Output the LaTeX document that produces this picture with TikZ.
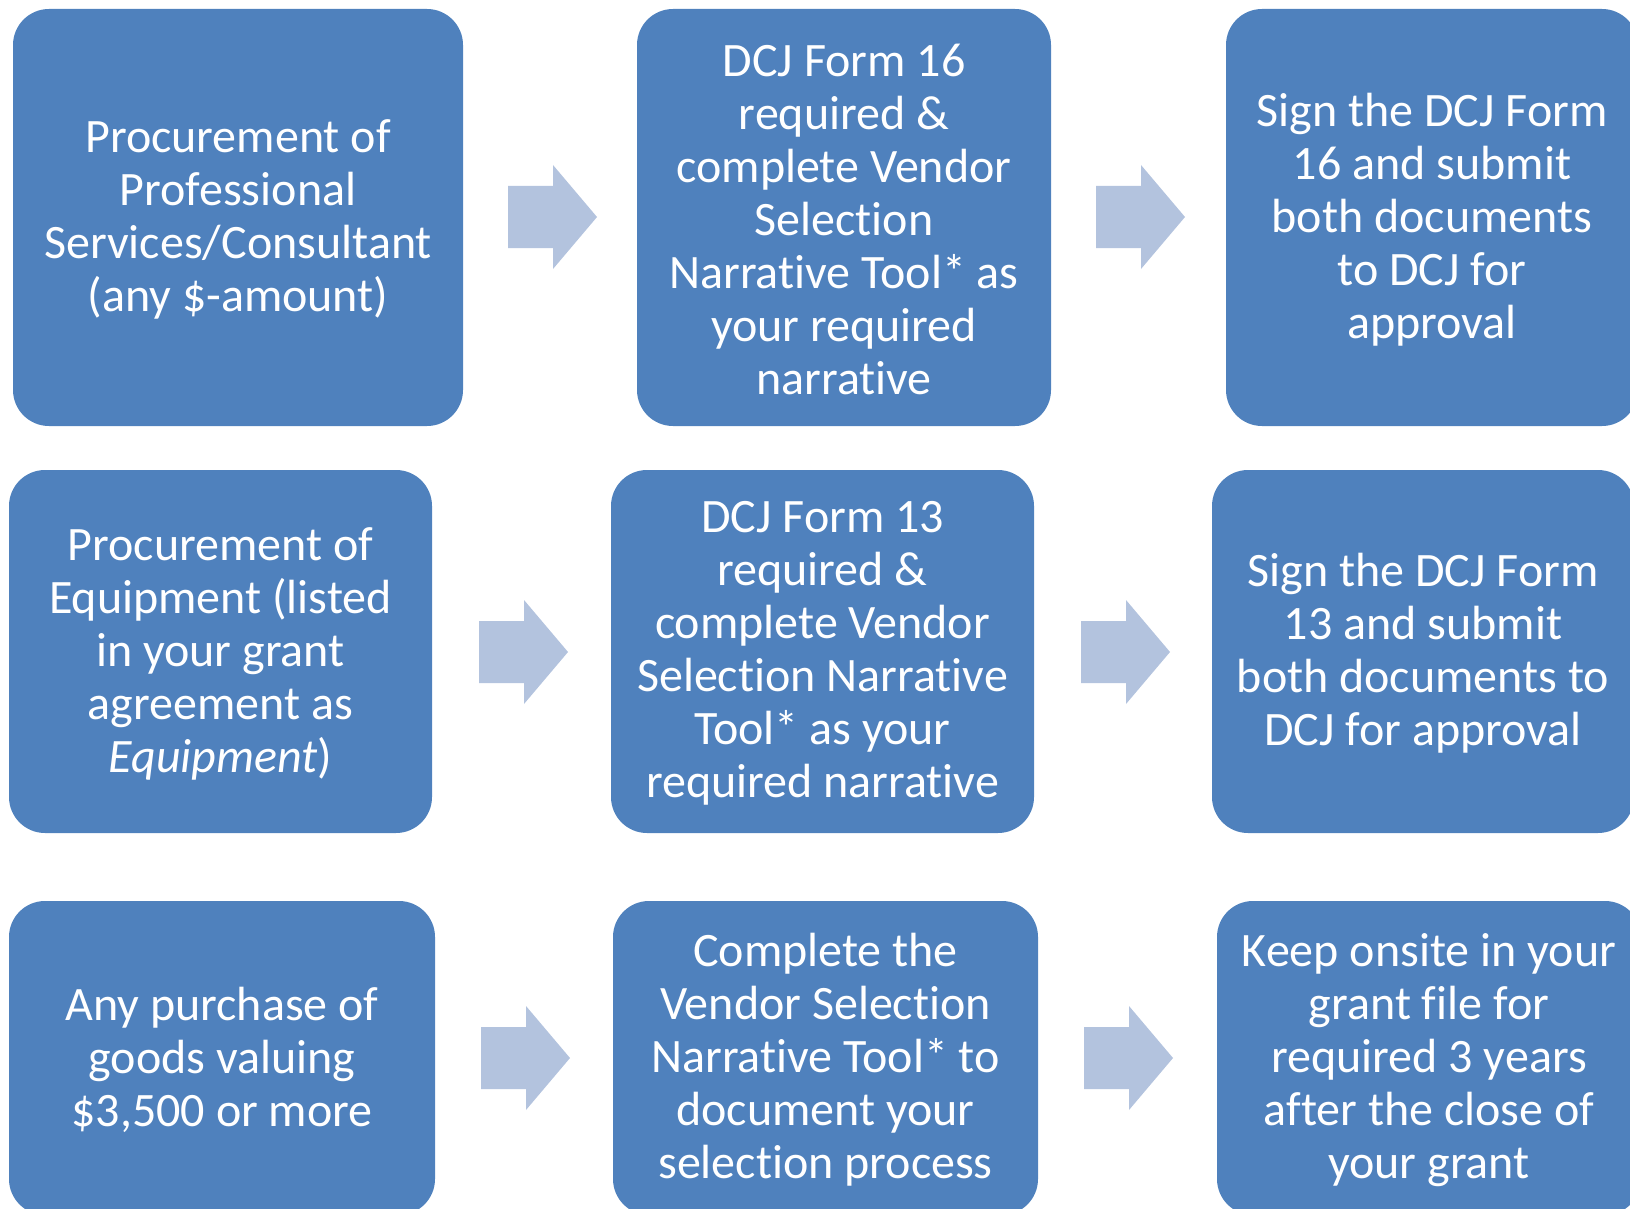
\documentclass[tikz,border=0pt]{standalone}
\usepackage{fontspec}
\setmainfont[RawFeature=-liga]{Carlito}
\definecolor{boxblue}{HTML}{4F81BD}
\definecolor{arrowblue}{HTML}{B3C3DE}
\tikzset{
  stepbox/.style={fill=boxblue, draw=none, rounded corners=36pt, text=white,
    align=center, inner sep=0pt, font=\fontsize{48}{53}\selectfont},
  boxtext/.style={text=white, align=center, inner sep=0pt, font=\fontsize{48}{53}\selectfont, yshift=-2pt},
  blockarrow/.pic={\fill[arrowblue] (0,-31) -- (45,-31) -- (45,-52) -- (89,0) -- (45,52) -- (45,31) -- (0,31) -- cycle;}
}
\begin{document}
\begin{tikzpicture}[x=1pt,y=-1pt]
\useasboundingbox (0,0) rectangle (1630,1209);
% row 1
\node[stepbox, minimum width=450pt, minimum height=417pt] (b1) at (238,217.5) {};
\node[boxtext] (t1) at (b1) {Procurement of\\Professional\\Services/Consultant\\(any \$-amount)};
\node[stepbox, minimum width=414pt, minimum height=417pt] (b2) at (844,217.5) {};
\node[boxtext] (t2) at (b2) {DCJ Form 16\\required \&\\complete Vendor\\Selection\\Narrative Tool* as\\your required\\narrative};
\node[stepbox, minimum width=412pt, minimum height=417pt] (b3) at (1432,217.5) {};
\node[boxtext] (t3) at (b3) {Sign the DCJ Form\\16 and submit\\both documents\\to DCJ for\\approval};
% row 2
\node[stepbox, minimum width=423pt, minimum height=363pt] (b4) at (220.5,651.5) {};
\node[boxtext] (t4) at (b4) {Procurement of\\Equipment (listed\\in your grant\\agreement as\\\textit{Equipment})};
\node[stepbox, minimum width=423pt, minimum height=363pt] (b5) at (822.5,651.5) {};
\node[boxtext] (t5) at (b5) {DCJ Form 13\\required \&\\complete Vendor\\Selection Narrative\\Tool* as your\\required narrative};
\node[stepbox, minimum width=422pt, minimum height=363pt] (b6) at (1423,651.5) {};
\node[boxtext] (t6) at (b6) {Sign the DCJ Form\\13 and submit\\both documents to\\DCJ for approval};
% row 3
\node[stepbox, minimum width=426pt, minimum height=314pt] (b7) at (222,1058) {};
\node[boxtext] (t7) at (b7) {Any purchase of\\goods valuing\\\$3,500 or more};
\node[stepbox, minimum width=425pt, minimum height=314pt] (b8) at (825.5,1058) {};
\node[boxtext] (t8) at (b8) {Complete the\\Vendor Selection\\Narrative Tool* to\\document your\\selection process};
\node[stepbox, minimum width=424pt, minimum height=314pt] (b9) at (1429,1058) {};
\node[boxtext] (t9) at (b9) {Keep onsite in your\\grant file for\\required 3 years\\after the close of\\your grant};
% arrows
\coordinate (a1) at (508,217);
\coordinate (a2) at (1096,217);
\coordinate (a3) at (479,652);
\coordinate (a4) at (1081,652);
\coordinate (a5) at (481,1058);
\coordinate (a6) at (1084,1058);
\foreach \a in {a1,a2,a3,a4,a5,a6} { \pic at (\a) {blockarrow}; }
\end{tikzpicture}
\end{document}
